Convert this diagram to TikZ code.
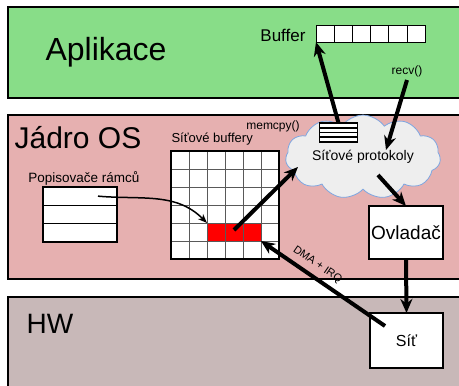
\documentclass[tikz,border=0pt]{standalone}
\usepackage{fontspec}
\setmainfont{Liberation Sans}
\usetikzlibrary{positioning,shapes.symbols,arrows.meta}
\definecolor{appgreen}{RGB}{136,221,136}
\definecolor{kernpink}{RGB}{230,176,176}
\definecolor{hwgray}{RGB}{200,184,184}
\definecolor{cloudgray}{RGB}{238,238,238}
\definecolor{cloudline}{RGB}{126,166,224}
\newcommand{\fsz}[1]{\fontsize{#1}{#1}\selectfont}
\tikzset{
  band/.style={draw, line width=1.5pt, anchor=north west, inner sep=0pt},
  box/.style={draw, line width=1.5pt, fill=white, inner sep=0pt, outer sep=0pt},
  cell/.style={draw, line width=1pt, fill=white, inner sep=0pt, outer sep=0pt,
    minimum width=18.2pt, minimum height=17pt, anchor=north west},
  bigarrow/.style={line width=4pt, -{Stealth[length=14pt,width=12pt,inset=4.5pt]}},
  thinarrow/.style={line width=1.5pt, -{Stealth[length=9pt,width=7pt,inset=2.5pt]}},
}

\begin{document}
\begin{tikzpicture}[x=1pt,y=1pt]
  \clip (0,0) rectangle (459,-386);
  %layers
  \node[band, fill=appgreen, minimum width=475pt, minimum height=91pt] (app) at (7,-6) {};
  \node[band, fill=kernpink, minimum width=475pt, minimum height=164pt] (kern) at (7,-114) {};
  \node[band, fill=hwgray, minimum width=475pt, minimum height=110pt] (hw) at (7,-296) {};
  \node[font=\fsz{32}, anchor=base] (applbl) at (106,-60) {Aplikace};
  \node[font=\fsz{30}, anchor=base] (kernlbl) at (78,-148) {Jádro OS};
  \node[font=\fsz{28}, anchor=base] (hwlbl) at (50,-333) {HW};

  %application buffer
  \foreach \i in {1,...,6}{
    \node[cell] (buf\i) at ({316+18.2*(\i-1)},-25) {};
  }
  \node[font=\fsz{17}, anchor=base east] (buflbl) at (309,-41) {Buffer};
  \node[font=\fsz{12}, anchor=base] (recv) at (407,-74) {recv()};

  %frame descriptors
  \node[font=\fsz{13.5}, anchor=base] (popislbl) at (84,-182) {Popisovače rámců};
  \node[box, minimum width=74pt, minimum height=18.3pt, anchor=north west] (r1) at (43,-187) {};
  \node[box, minimum width=74pt, minimum height=18.3pt, below=0pt of r1] (r2) {};
  \node[box, minimum width=74pt, minimum height=18.3pt, below=0pt of r2] (r3) {};

  %network buffers
  \node[fill=white, minimum size=108pt, inner sep=0pt, outer sep=0pt, anchor=north west] (bufs) at (171,-151) {};
  \node[fill=red, minimum width=54pt, minimum height=18pt, inner sep=0pt, outer sep=0pt, anchor=north west] (red) at (207,-223) {};
  \foreach \i in {1,...,5}{
    \draw[gray!70!black, line width=0.8pt] ([xshift=\i*18pt]bufs.north west) -- ([xshift=\i*18pt]bufs.south west);
    \draw[gray!70!black, line width=0.8pt] ([yshift=-\i*18pt]bufs.north west) -- ([yshift=-\i*18pt]bufs.north east);
  }
  \draw[line width=1.5pt] (bufs.north west) rectangle (bufs.south east);
  \node[font=\fsz{13}, anchor=base west] (bufslbl) at (168,-142) {Síťové buffery};
  \node[font=\fsz{12}, anchor=base] (memcpy) at (273,-129) {memcpy()};

  %protocols
  \node[cloud, cloud puffs=11, cloud puff arc=110, aspect=2.2, draw=cloudline, line width=0.8pt,
    fill=cloudgray, minimum width=155pt, minimum height=70pt, inner sep=0pt, font=\fsz{14}]
    (proto) at (363,-157) {Síťové protokoly};
  \node[box, minimum width=38pt, minimum height=19pt] (mbuf) at (338.5,-132.5) {};
  \foreach \k in {1,2,3}{
    \draw[line width=1.8pt] ([yshift=-\k*4.75pt]mbuf.north west) -- ([yshift=-\k*4.75pt]mbuf.north east);
  }

  %driver and NIC
  \node[box, minimum width=74pt, minimum height=53pt, font=\fsz{19}] (ovl) at (406,-232.5) {Ovladač};
  \node[box, minimum width=73pt, minimum height=55pt, font=\fsz{16}] (sit) at (406.5,-340.5) {Síť};

  \coordinate (recvin) at (386,-150);
  \coordinate (protoout) at (378,-175);
  \coordinate (protoin) at (298,-167);

  %arrows
  \draw[bigarrow] (mbuf.north) -- (buf1.south west);
  \draw[bigarrow] (recv.south) -- (recvin);
  \draw[bigarrow] (protoout) -- (ovl.north);
  \draw[bigarrow] (ovl.south) -- (sit.north);
  \draw[bigarrow] ([shift={(15,-13)}]sit.north west) -- (red.south east)
    node[pos=0.6, above=2pt, sloped, font=\fsz{11}] (dma) {DMA + IRQ};
  \draw[bigarrow] ([yshift=2pt]red.center) -- (protoin);
  \draw[thinarrow] ([xshift=18pt]r1.center) to[out=-5, in=135] (red.north west);
\end{tikzpicture}
\end{document}
